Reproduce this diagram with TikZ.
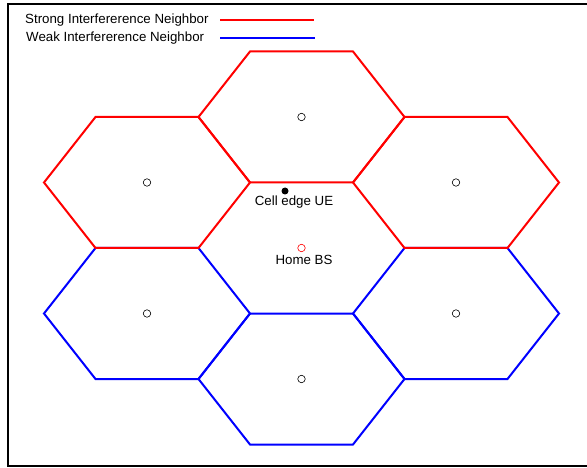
\documentclass[tikz,border=0pt]{standalone}
\usepackage{fontspec}
\setmainfont{Liberation Sans}
\begin{document}
\begin{tikzpicture}[x=1pt,y=-1pt,
  strong/.style={draw=red,line width=2pt},
  weak/.style={draw=blue,line width=2pt},
  lbl/.style={font=\fontsize{13.3}{15}\selectfont,inner sep=0pt},
  bs/.style={circle,draw=black,line width=0.6pt,minimum size=7.5pt,inner sep=0pt},
  pics/hexa/.style={code={\draw[#1] (-103,0) -- (-51.5,-65.5) -- (51.5,-65.5) -- (103,0) -- (51.5,65.5) -- (-51.5,65.5) -- cycle;}}]
\useasboundingbox (0,0) rectangle (587,468);
\begin{scope}
\clip (0,0) rectangle (587,468);
\draw[line width=1.2pt] (8,4) rectangle (600,466);
\end{scope}
% legend
\node[lbl,anchor=west] (ls) at (25,20) {Strong Interfererence Neighbor};
\node[lbl,anchor=west] (lw) at (26,38) {Weak Interfererence Neighbor};
\coordinate (ls1) at (220,20); \coordinate (ls2) at (314,20);
\coordinate (lw1) at (220,38); \coordinate (lw2) at (315,38);
\draw[strong] (ls1) -- (ls2);
\draw[weak] (lw1) -- (lw2);
% weak cells
\pic at (147,313.5) {hexa=weak};
\pic at (456,313.5) {hexa=weak};
\pic at (301.5,379) {hexa=weak};
% strong cells
\pic at (301.5,117) {hexa=strong};
\pic at (147,182.5) {hexa=strong};
\pic at (456,182.5) {hexa=strong};
% base stations
\node[bs] (b1) at (301.5,117) {};
\node[bs] (b2) at (147,182.5) {};
\node[bs] (b3) at (456,182.5) {};
\node[bs] (b4) at (147,313.5) {};
\node[bs] (b5) at (456,313.5) {};
\node[bs] (b6) at (301.5,379) {};
\node[bs,draw=red] (home) at (301.5,248) {};
\node[lbl] (homel) at (304,259.5) {Home BS};
\node[circle,fill=black,minimum size=7pt,inner sep=0pt] (ue) at (285,191) {};
\node[lbl] (uel) at (294,202.5) {Cell edge UE};
\end{tikzpicture}
\end{document}
